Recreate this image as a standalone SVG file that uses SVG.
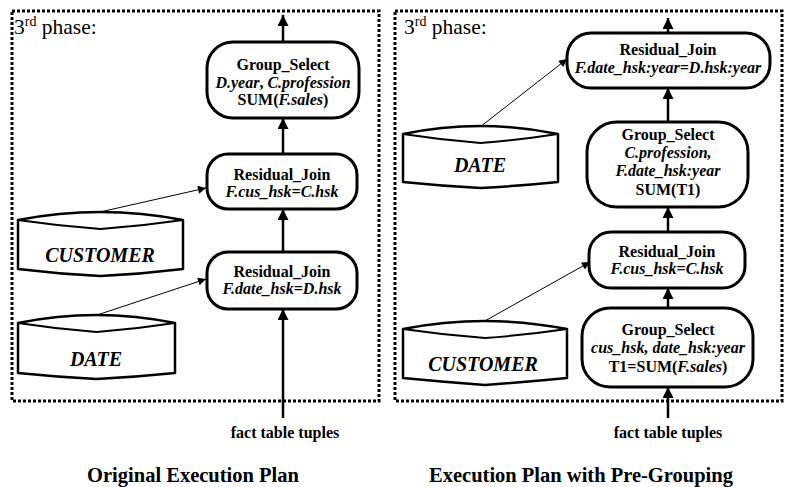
<svg xmlns="http://www.w3.org/2000/svg" width="787" height="487" viewBox="0 0 787 487">
<style>
text{font-family:"Liberation Serif","Times New Roman",serif;fill:#000}
.n{font-size:16px;font-weight:bold;text-anchor:middle}
.i{font-style:italic}
.cyl-t{font-size:20px;font-weight:bold;font-style:italic;text-anchor:middle}
.phase{font-size:21.5px}
.cap{font-size:20.5px;font-weight:bold;text-anchor:middle}
.ft{font-size:16px;font-weight:bold;text-anchor:middle}
.panel{fill:none;stroke:#000;stroke-width:3;stroke-dasharray:3 2}
.box{fill:#fff;stroke:#000;stroke-width:3}
.cyl{fill:#fff;stroke:#000;stroke-width:2.5;stroke-linejoin:round}
.cyl2{fill:none;stroke:#000;stroke-width:2}
.thick{stroke:#000;stroke-width:2.5;fill:none}
.thin{stroke:#000;stroke-width:1;fill:none}
</style>
<defs>
<marker id="ah" viewBox="0 0 10 10" refX="10" refY="5" markerWidth="4.6" markerHeight="4.4" orient="auto" markerUnits="strokeWidth"><path d="M0,0 L10,5 L0,10 z" fill="#000"/></marker>
<marker id="ahs" viewBox="0 0 10 10" refX="10" refY="5" markerWidth="12" markerHeight="8" orient="auto" markerUnits="strokeWidth"><path d="M0,0 L10,5 L0,10 z" fill="#000"/></marker>
</defs>
<rect x="0" y="0" width="787" height="487" fill="#fff"/>

<!-- panels -->
<rect class="panel" x="12" y="11" width="367" height="390"/>
<rect class="panel" x="395" y="11" width="387" height="390"/>
<text class="phase" x="14" y="34">3<tspan font-size="14" dy="-8">rd</tspan><tspan dy="8"> phase:</tspan></text>
<text class="phase" x="404" y="34">3<tspan font-size="14" dy="-8">rd</tspan><tspan dy="8"> phase:</tspan></text>

<g id="connectors">
<line class="thick" x1="283" y1="42" x2="283" y2="15" marker-end="url(#ah)"/>
<line class="thick" x1="283" y1="154" x2="283" y2="118" marker-end="url(#ah)"/>
<line class="thick" x1="283" y1="252" x2="283" y2="209" marker-end="url(#ah)"/>
<line class="thick" x1="283" y1="418" x2="283" y2="309" marker-end="url(#ah)"/>
<line class="thin" x1="100" y1="212" x2="206" y2="188" marker-end="url(#ahs)"/>
<line class="thin" x1="97" y1="315" x2="206" y2="279" marker-end="url(#ahs)"/>
<line class="thick" x1="668" y1="33" x2="668" y2="18" marker-end="url(#ah)"/>
<line class="thick" x1="668" y1="122" x2="668" y2="88" marker-end="url(#ah)"/>
<line class="thick" x1="668" y1="232" x2="668" y2="207" marker-end="url(#ah)"/>
<line class="thick" x1="668" y1="308" x2="668" y2="288" marker-end="url(#ah)"/>
<line class="thick" x1="668" y1="418" x2="668" y2="387" marker-end="url(#ah)"/>
<line class="thin" x1="480" y1="127" x2="567" y2="59" marker-end="url(#ahs)"/>
<line class="thin" x1="483" y1="322" x2="590" y2="262" marker-end="url(#ahs)"/>
</g>

<!-- Left plan -->
<g id="L_group_select">
<rect class="box" x="207" y="42" width="152" height="76" rx="26" ry="26"/>
<text class="n" x="283" y="70">Group_Select</text>
<text class="n" x="283" y="88"><tspan class="i">D.year</tspan>, <tspan class="i">C.profession</tspan></text>
<text class="n" x="283" y="105">SUM(<tspan class="i">F.sales</tspan>)</text>
</g>
<g id="L_residual_join_1">
<rect class="box" x="207" y="154" width="150" height="55" rx="21" ry="21"/>
<text class="n" x="282" y="180">Residual_Join</text>
<text class="n i" x="282" y="197">F.cus_hsk=C.hsk</text>
</g>
<g id="L_residual_join_2">
<rect class="box" x="207" y="252" width="150" height="57" rx="21" ry="21"/>
<text class="n" x="282" y="277">Residual_Join</text>
<text class="n i" x="282" y="294">F.date_hsk=D.hsk</text>
</g>
<g id="L_customer">
<path class="cyl" d="M18,220 Q100.5,204 183,220 V269 Q142,274 100.5,276 Q59,274 18,269 Z"/>
<path class="cyl2" d="M18,220 Q59,226 100.5,229 Q142,226 183,220"/>
<text class="cyl-t" x="100" y="262">CUSTOMER</text>
</g>
<g id="L_date">
<path class="cyl" d="M18,323 Q96.5,307 175,323 V373 Q136,377 96.5,379 Q57,377 18,373 Z"/>
<path class="cyl2" d="M18,323 Q57,329 96.5,332 Q136,329 175,323"/>
<text class="cyl-t" x="96" y="366">DATE</text>
</g>
<text class="ft" x="285" y="438">fact table tuples</text>
<text class="cap" x="193" y="482">Original Execution Plan</text>

<!-- Right plan -->
<g id="R_residual_join_top">
<rect class="box" x="567" y="33" width="203" height="55" rx="24" ry="24"/>
<text class="n" x="668" y="55">Residual_Join</text>
<text class="n i" x="668" y="73">F.date_hsk:year=D.hsk:year</text>
</g>
<g id="R_group_select_mid">
<rect class="box" x="587" y="122" width="161" height="85" rx="30" ry="30"/>
<text class="n" x="668" y="140">Group_Select</text>
<text class="n i" x="668" y="158">C.profession,</text>
<text class="n i" x="668" y="176">F.date_hsk:year</text>
<text class="n" x="668" y="195">SUM(T1)</text>
</g>
<g id="R_residual_join_mid">
<rect class="box" x="589" y="232" width="156" height="56" rx="22" ry="22"/>
<text class="n" x="667" y="257">Residual_Join</text>
<text class="n i" x="667" y="274">F.cus_hsk=C.hsk</text>
</g>
<g id="R_group_select_bottom">
<rect class="box" x="582" y="308" width="171" height="79" rx="28" ry="28"/>
<text class="n" x="668" y="335">Group_Select</text>
<text class="n i" x="668" y="353">cus_hsk, date_hsk:year</text>
<text class="n" x="668" y="372">T1=SUM(<tspan class="i">F.sales</tspan>)</text>
</g>
<g id="R_date">
<path class="cyl" d="M403,134 Q480.5,118 558,134 V182 Q519,186 480.5,188 Q442,186 403,182 Z"/>
<path class="cyl2" d="M403,134 Q442,140 480.5,143 Q519,140 558,134"/>
<text class="cyl-t" x="480" y="172">DATE</text>
</g>
<g id="R_customer">
<path class="cyl" d="M403,329 Q485,313 567,329 V378 Q526,382 485,385 Q444,382 403,378 Z"/>
<path class="cyl2" d="M403,329 Q444,335 485,338 Q526,335 567,329"/>
<text class="cyl-t" x="483" y="371">CUSTOMER</text>
</g>
<text class="ft" x="668" y="438">fact table tuples</text>
<text class="cap" x="581" y="482">Execution Plan with Pre-Grouping</text>
</svg>
